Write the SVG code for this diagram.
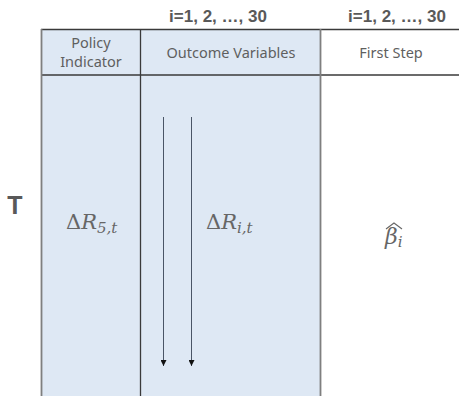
<svg xmlns="http://www.w3.org/2000/svg" width="459" height="396" viewBox="0 0 459 396">
<defs>
<style>
.hdr{font-family:"Noto Sans","Open Sans",sans-serif;font-size:14.5px;fill:#5f5f5f;text-anchor:middle}
.idx{font-family:"Liberation Sans",Arial,sans-serif;font-size:17px;font-weight:bold;fill:#595959;text-anchor:middle}
.math{font-family:"DejaVu Serif","Liberation Serif",serif;fill:#666}
.it{font-style:italic}
.dark{stroke:#3a3a3a;stroke-width:1.3;fill:none}
.gray{stroke:#7f7f7f;stroke-width:1.8;fill:none}
.arr{stroke:#4a5566;stroke-width:1;fill:none}
</style>
<marker id="ah" viewBox="0 0 10 10" refX="10" refY="5" markerWidth="6" markerHeight="6" orient="auto" markerUnits="userSpaceOnUse">
<path d="M0,0 L10,5 L0,10 Z" fill="#111"/>
</marker>
</defs>
<rect x="41.5" y="29.5" width="279" height="367" fill="#DEE8F4"/>
<g id="grid">
<line class="dark" x1="41" y1="29.5" x2="459" y2="29.5"/>
<line class="dark" x1="41" y1="75" x2="459" y2="75"/>
<line class="gray" x1="41.5" y1="29" x2="41.5" y2="396"/>
<line class="dark" x1="140.5" y1="29" x2="140.5" y2="396"/>
<line class="gray" x1="320.5" y1="29" x2="320.5" y2="396"/>
</g>
<text class="idx" x="218" y="22">i=1, 2, …, 30</text>
<text class="idx" x="397" y="22">i=1, 2, …, 30</text>
<g id="policy-indicator">
<text class="hdr" x="91" y="48" font-size="14">Policy</text>
<text class="hdr" x="91" y="67" font-size="14">Indicator</text>
<text class="math" x="66" y="229" font-size="21">Δ<tspan class="it">R</tspan><tspan class="it" font-size="15" dy="4">5,t</tspan></text>
</g>
<g id="outcome-variables">
<text class="hdr" x="231" y="58">Outcome Variables</text>
<text class="math" x="206" y="229" font-size="21">Δ<tspan class="it">R</tspan><tspan class="it" font-size="15" dy="4">i,t</tspan></text>
</g>
<g id="first-step">
<text class="hdr" x="391" y="58">First Step</text>
<text class="math it" x="385" y="244" font-size="22">β<tspan font-size="15" dy="3">i</tspan></text>
<path d="M386,229 L394,223 L402,229" stroke="#666" stroke-width="1.1" fill="none"/>
</g>
<text x="15" y="214" font-family="Liberation Sans,Arial,sans-serif" font-size="25" font-weight="bold" fill="#595959" text-anchor="middle">T</text>
<g id="connectors">
<line class="arr" x1="163.5" y1="117" x2="163.5" y2="366" marker-end="url(#ah)"/>
<line class="arr" x1="191.5" y1="117" x2="191.5" y2="366" marker-end="url(#ah)"/>
</g>
</svg>
